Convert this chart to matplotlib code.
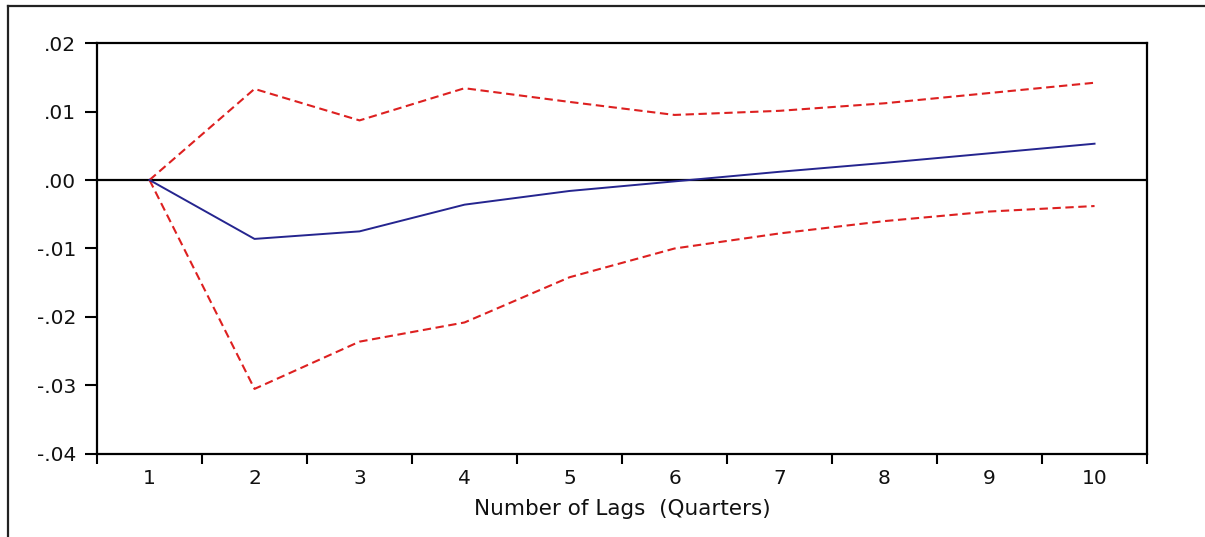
import matplotlib
matplotlib.use("Agg")
import matplotlib.pyplot as plt
from matplotlib.lines import Line2D
import numpy as np

# impulse response and +/- 2 S.E. bands
lags = [1, 2, 3, 4, 5, 6, 7, 8, 9, 10]
response = [0.0, -0.0086, -0.0075, -0.0036, -0.0016, -0.0002, 0.0012, 0.0025, 0.0039, 0.0053]
upper = [0.0, 0.0133, 0.0087, 0.0134, 0.0114, 0.0095, 0.0101, 0.0112, 0.0127, 0.0142]
lower = [0.0, -0.0305, -0.0236, -0.0208, -0.0142, -0.0100, -0.0078, -0.0060, -0.0046, -0.0038]

y_ticks = [0.02, 0.01, 0.0, -0.01, -0.02, -0.03, -0.04]
y_labels = [".02", ".01", ".00", "-.01", "-.02", "-.03", "-.04"]
x_label = "Number of Lags  (Quarters)"

plt.rcParams["font.family"] = ["DejaVu Sans"]

fig = plt.figure(figsize=(12.05, 5.37), dpi=100)
ax = fig.add_axes([0.0805, 0.1546, 0.8714, 0.7653])

ax.axhline(0, color="black", lw=1.6, zorder=1)
ax.plot(lags, upper, color="#dd2020", lw=1.5, dashes=(4, 2.2), zorder=2)
ax.plot(lags, lower, color="#dd2020", lw=1.5, dashes=(4, 2.2), zorder=2)
ax.plot(lags, response, color="#25258f", lw=1.4, zorder=3)

ax.set_xlim(0.5, 10.5)
ax.set_ylim(-0.04, 0.02)

ax.set_yticks(y_ticks)
ax.set_yticklabels(y_labels)
ax.set_xticks(lags)
ax.set_xticklabels([str(v) for v in lags])
ax.set_xticks(np.arange(0.5, 11, 1), minor=True)

ax.tick_params(axis="y", direction="out", length=9, width=1.5, labelsize=14.5, pad=6)
ax.tick_params(axis="x", which="major", length=0, labelsize=14.5, pad=11)
ax.tick_params(axis="x", which="minor", direction="out", length=7, width=1.5)
for lab in ax.get_xticklabels() + ax.get_yticklabels():
    lab.set_color("#111111")

for sp in ax.spines.values():
    sp.set_linewidth(1.6)
    sp.set_color("black")

ax.set_xlabel(x_label, fontsize=15.5, color="#111111", labelpad=8)

# outer frame (only left and top edges visible in the crop)
fig.add_artist(Line2D([0.0066, 0.0066], [0.0, 0.989], transform=fig.transFigure,
                      color="#222222", lw=1.6))
fig.add_artist(Line2D([0.0066, 1.0], [0.989, 0.989], transform=fig.transFigure,
                      color="#222222", lw=1.6))

fig.savefig("out.png", dpi=100)
